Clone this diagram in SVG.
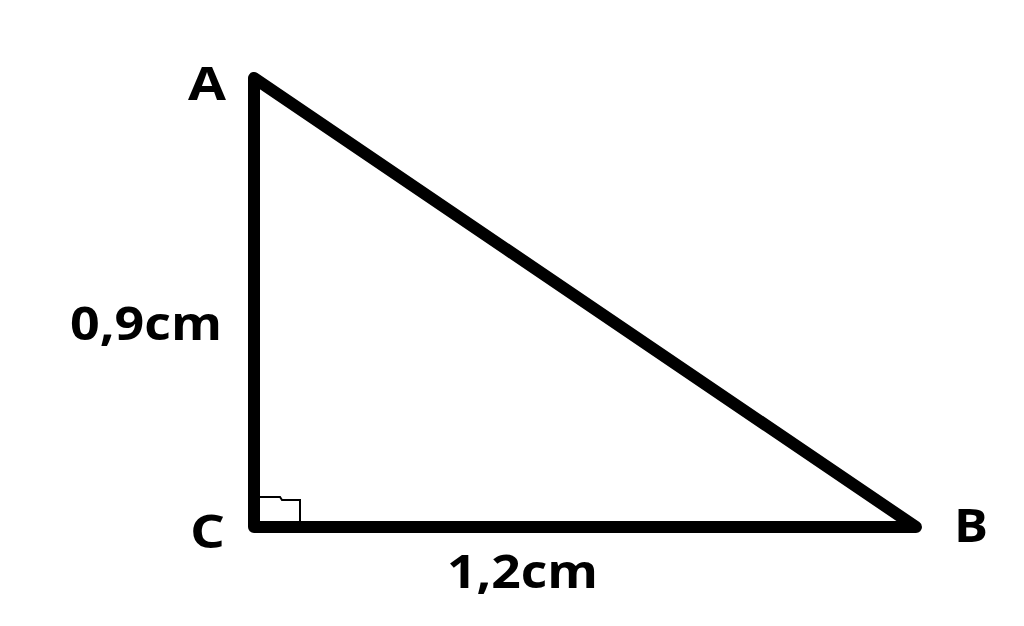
<svg xmlns="http://www.w3.org/2000/svg" width="1024" height="626" viewBox="0 0 1024 626">
<style>
.lbl{font-family:"Open Sans","Noto Sans",sans-serif;font-weight:bold;font-size:46px;fill:#000}
</style>
<rect width="1024" height="626" fill="#fff"/>
<g id="connectors">
<polygon points="254,78 254,527 916,527" fill="none" stroke="#000" stroke-width="12" stroke-linejoin="round"/>
<polyline points="259,497 280,497 282,500 300,500 300,521" fill="none" stroke="#000" stroke-width="2"/>
</g>
<g id="A"><text class="lbl" x="188" y="100" textLength="38" lengthAdjust="spacingAndGlyphs">A</text></g>
<g id="C"><text class="lbl" x="190" y="548" textLength="35" lengthAdjust="spacingAndGlyphs">C</text></g>
<g id="B"><text class="lbl" x="954" y="542" textLength="34" lengthAdjust="spacingAndGlyphs">B</text></g>
<g id="side-AC"><text class="lbl" x="70" y="340" textLength="152" lengthAdjust="spacingAndGlyphs">0,9cm</text></g>
<g id="side-CB"><text class="lbl" x="447" y="588" textLength="151" lengthAdjust="spacingAndGlyphs">1,2cm</text></g>
</svg>
